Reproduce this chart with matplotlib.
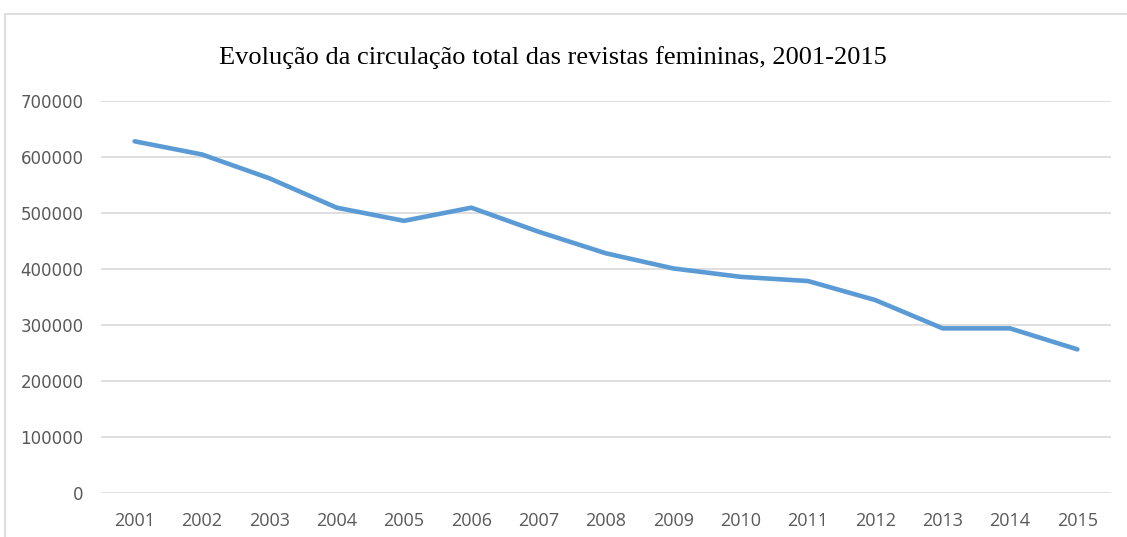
import numpy as np
import matplotlib.pyplot as plt
from matplotlib.patches import Rectangle

years = ["2001", "2002", "2003", "2004", "2005", "2006", "2007", "2008",
         "2009", "2010", "2011", "2012", "2013", "2014", "2015"]
circulacao = [628000, 604500, 562000, 509500, 486000, 509500, 466500, 428000,
              401000, 386000, 378500, 344500, 294000, 294000, 256500]
yticks = [0, 100000, 200000, 300000, 400000, 500000, 600000, 700000]

W, H = 1127, 537
fig = plt.figure(figsize=(W / 100, H / 100), dpi=100)

# chart area frame (light gray border, cropped at right/bottom)
fig.patches.append(Rectangle((4.5 / W, -0.1), 1.2, 1.1 - 13.5 / H,
                             transform=fig.transFigure, fill=False,
                             edgecolor="#D9D9D9", lw=1.2))

ax = fig.add_axes([101 / W, 44 / H, (1111 - 101) / W, (493 - 101) / H])
x = np.arange(len(years))
ax.plot(x, circulacao, color="#5B9BD5", lw=3.3, solid_capstyle="round",
        solid_joinstyle="miter")

ax.set_xlim(-0.5, len(years) - 0.5)
ax.set_ylim(0, 700000)
ax.set_yticks(yticks)
ax.set_yticklabels([str(v) for v in yticks], fontfamily="DejaVu Sans",
                   fontsize=12, color="#595959")
ax.set_xticks(x)
ax.set_xticklabels(years, fontfamily="Open Sans", fontsize=13, color="#595959")
ax.tick_params(axis="y", length=0, pad=12.5)
ax.tick_params(axis="x", length=0, pad=14)
ax.grid(axis="y", color="#D9D9D9", lw=1.2)
ax.set_axisbelow(True)
for s in ax.spines.values():
    s.set_visible(False)

fig.text(553 / W, 1 - 58 / H, "Evolução da circulação total das revistas femininas, 2001-2015",
         ha="center", va="center", fontfamily="Liberation Serif", fontsize=19,
         color="#000000")

fig.savefig("out.png", dpi=100)
